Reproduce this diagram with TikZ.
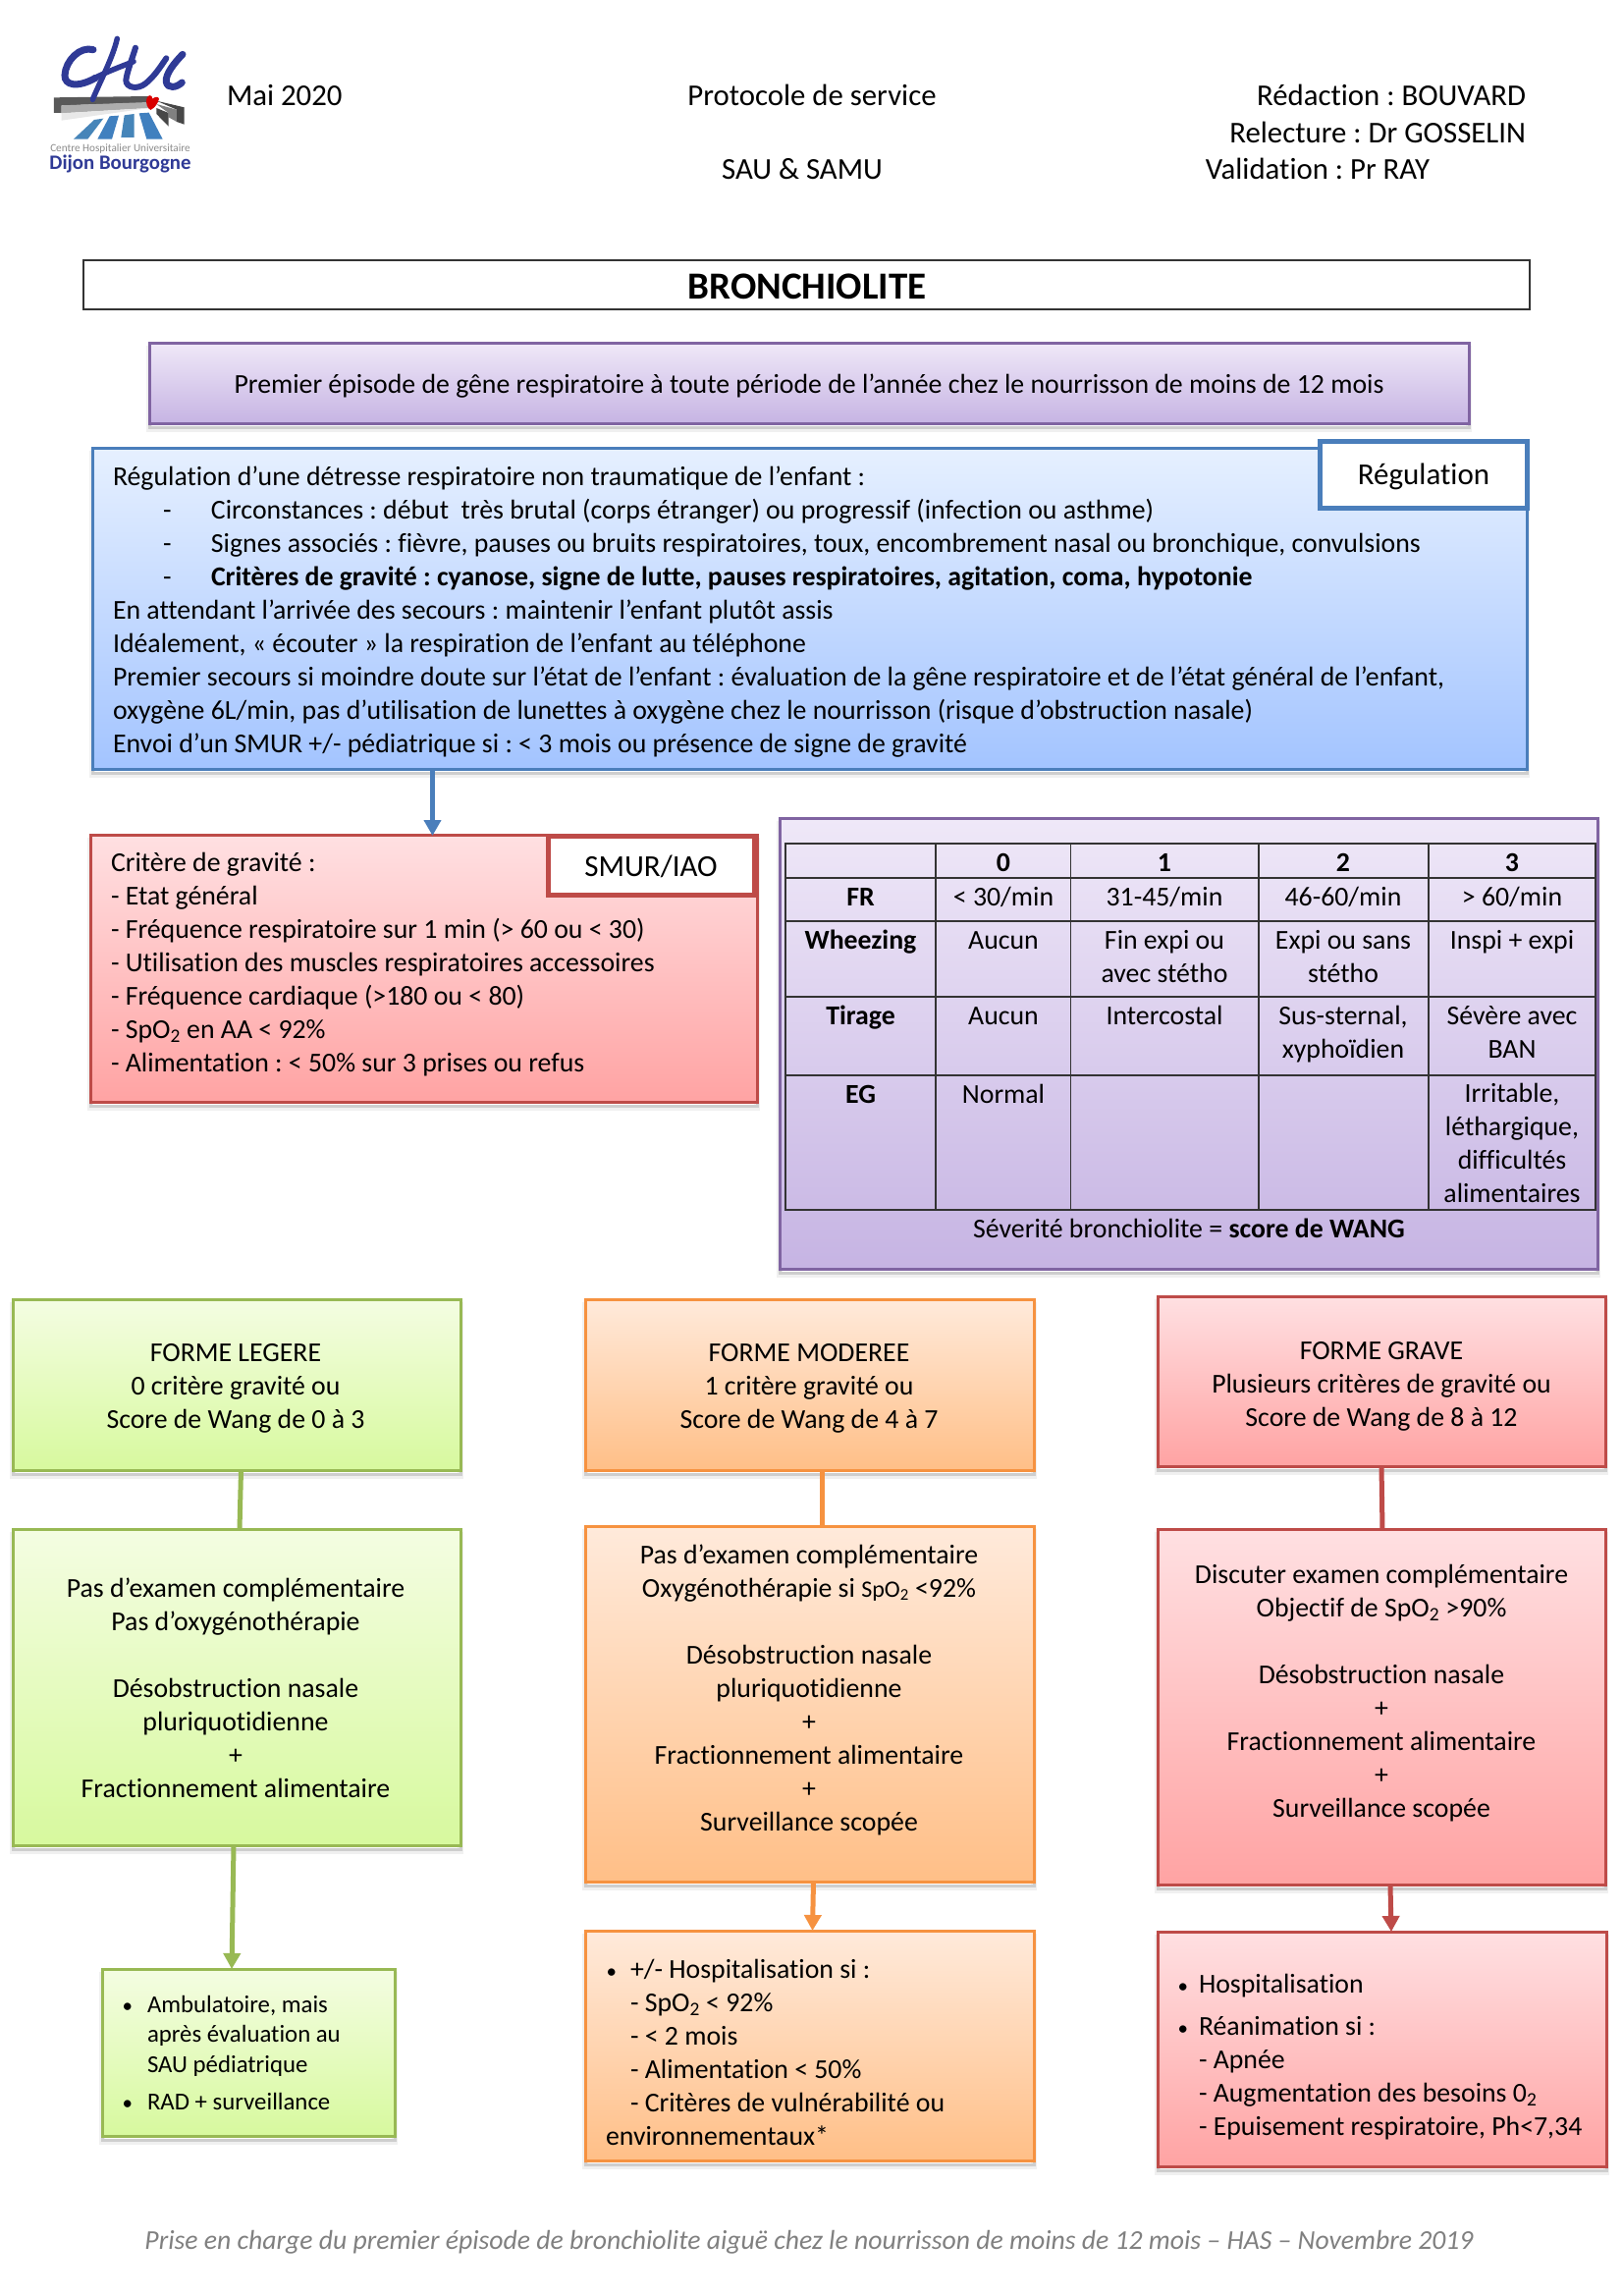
\documentclass[tikz,border=0pt]{standalone}
\usepackage{fontspec}
\setmainfont{Carlito}[Ligatures=NoCommon]
\frenchspacing
\usetikzlibrary{arrows.meta,calc}
\definecolor{purB}{HTML}{8064A2}\definecolor{purT}{HTML}{EFE8F8}\definecolor{purE}{HTML}{C6B4E3}
\definecolor{bluB}{HTML}{4A7EBB}\definecolor{bluT}{HTML}{E6F0FF}\definecolor{bluE}{HTML}{A3C4FF}
\definecolor{redB}{HTML}{BE4B48}\definecolor{redT}{HTML}{FFE0E2}\definecolor{redE}{HTML}{FFA3A3}
\definecolor{greB}{HTML}{98B954}\definecolor{greT}{HTML}{F4FDE2}\definecolor{greE}{HTML}{D7F99E}
\definecolor{oraB}{HTML}{F69240}\definecolor{oraT}{HTML}{FFEADB}\definecolor{oraE}{HTML}{FFBF87}
\definecolor{chu}{HTML}{2F3A96}
\newcommand{\fs}[2]{\fontsize{#1}{#2}\selectfont}
\newcommand{\bul}[1]{\leavevmode\llap{{\fs{21}{21}\textbullet}\hspace{#1}}}
\tikzset{
  softshadow/.style={
    preaction={draw=black,draw opacity=.06,line width=6pt,transform canvas={yshift=-6pt}},
    preaction={draw=black,draw opacity=.14,line width=3pt,transform canvas={yshift=-4pt}}},
  boxbase/.style={rectangle,inner sep=0pt,outer sep=0pt,line width=3pt,softshadow},
  purbox/.style={boxbase,draw=purB,top color=purT,bottom color=purE},
  blubox/.style={boxbase,draw=bluB,top color=bluT,bottom color=bluE},
  redbox/.style={boxbase,draw=redB,top color=redT,bottom color=redE},
  grebox/.style={boxbase,draw=greB,top color=greT,bottom color=greE},
  orabox/.style={boxbase,draw=oraB,top color=oraT,bottom color=oraE},
  tagbox/.style={rectangle,inner sep=0pt,outer sep=0pt,line width=5pt,fill=white},
  titlebox/.style={rectangle,inner sep=0pt,outer sep=0pt,line width=1.8pt,draw=black!80},
  tl/.style={inner sep=0pt,outer sep=0pt,anchor=base west,align=flush left,text width=#1,font=\fs{27.8}{34}},
  tl/.default=1500pt,
  tc/.style={inner sep=0pt,outer sep=0pt,anchor=base,align=flush center,text width=#1,font=\fs{27.8}{34}},
  tc/.default=500pt,
  tr/.style={inner sep=0pt,outer sep=0pt,anchor=base east,font=\fs{30.8}{34}},
  cell/.style={inner sep=0pt,outer sep=0pt,anchor=base,align=flush center,text width=170pt,font=\fs{27.8}{34}},
  grid/.style={draw=black!80,line width=1.6pt},
  conn/.style={line width=5pt},
  arr/.style={line width=5pt,-{Triangle[width=17pt,length=16pt]}},
}
\newcommand{\bx}[6]{\node[#2,minimum width={(#5)-(#3)},minimum height={(#6)-(#4)}] (#1) at ({((#3)+(#5))/2},{((#4)+(#6))/2}) {};}
\begin{document}
\begin{tikzpicture}[x=1pt,y=-1pt]
\useasboundingbox (0,0) rectangle (1652,2338);
\fill[white] (0,0) rectangle (1652,2338);
% logo
\begin{scope}[shift={(40,30)},x=.3333pt,y=-.3333pt]
 \fill[black!65] (45,208) -- (335,204) -- (335,224) -- (68,232) -- (68,255) -- (45,255) -- cycle;
 \fill[black!32] (68,232) -- (335,222) -- (335,240) -- (68,256) -- cycle;
 \fill[black!9] (68,256) -- (335,240) -- (68,278) -- cycle;
 \fill[black!72] (358,218) -- (443,238) -- (443,290) -- (420,282) -- (420,245) -- cycle;
 \fill[black!50] (358,228) -- (420,245) -- (420,282) -- (395,268) -- (395,255) -- cycle;
 \fill[black!72] (358,240) -- (395,255) -- (395,296) -- (358,258) -- cycle;
 \fill[red!85!black] (328,212) .. controls (332,198) and (345,198) .. (346,212) .. controls (352,205) and (366,205) .. (366,212) .. controls (362,228) and (352,240) .. (340,246) .. controls (330,240) and (325,225) .. (328,212) -- cycle;
 \fill[blue!45!cyan!45!gray] (168,276) -- (196,272) -- (148,335) -- (105,335) -- cycle;
 \fill[blue!50!cyan!50!gray] (215,265) -- (243,263) -- (222,335) -- (178,335) -- cycle;
 \fill[blue!45!cyan!45!gray] (260,262) -- (290,258) -- (290,330) -- (250,330) -- cycle;
 \fill[blue!50!cyan!50!gray] (305,256) -- (335,254) -- (377,335) -- (328,335) -- cycle;
 \draw[chu,line width=7pt,line cap=round] (165,62) .. controls (125,50) and (80,95) .. (78,140) .. controls (77,170) and (115,180) .. (172,148);
 \draw[chu,line width=5.5pt,line cap=round] (238,28) .. controls (225,85) and (190,150) .. (163,214);
 \draw[chu,line width=5.5pt,line cap=round] (170,148) .. controls (205,130) and (245,115) .. (288,98);
 \draw[chu,line width=6pt,line cap=round] (294,56) .. controls (282,95) and (268,130) .. (265,155) .. controls (265,178) and (300,185) .. (325,165) .. controls (350,145) and (370,115) .. (388,88);
 \draw[chu,line width=7pt,line cap=round] (438,76) .. controls (415,100) and (385,135) .. (388,160) .. controls (392,182) and (420,178) .. (436,162);
\end{scope}
\node[inner sep=0pt,text=black!45,font=\fs{11.2}{14}] (logoa) at (122.5,152) {Centre Hospitalier Universitaire};
\node[inner sep=0pt,text=chu,font=\bfseries\fs{20.8}{22}] (logob) at (122.5,167) {Dijon Bourgogne};
% header
\node[tl=300pt,font=\fs{30.8}{34}] (date) at (231,107) {Mai 2020};
\node[tc,font=\fs{30.8}{34}] (proto) at (827,107) {Protocole de service};
\node[tc,font=\fs{30.8}{34}] (sau) at (817,182) {SAU \& SAMU};
\node[tr] (redac) at (1554,107) {Rédaction : BOUVARD};
\node[tr] (relec) at (1554,145) {Relecture : Dr GOSSELIN};
\node[tc,font=\fs{30.8}{34}] (valid) at (1342,182) {Validation : Pr RAY};
% title
\bx{title}{titlebox}{85}{265}{1558}{315}
\node[tc,font=\bfseries\fs{39}{40}] (titlet) at (822,304) {BRONCHIOLITE};
% purple
\bx{prem}{purbox}{152}{349}{1496}{431}
\node[tc=1300pt] (premt) at (prem.center |- 0,400) {Premier épisode de gêne respiratoire à toute période de l’année chez le nourrisson de moins de 12 mois};
% blue
\bx{reg}{blubox}{94}{456}{1555}{783}
\node[tl=1430pt] (regt) at (115,494) {Régulation d’une détresse respiratoire non traumatique de l’enfant :\\
\makebox[100pt][l]{\hspace*{51pt}-}Circonstances : début\ \ très brutal (corps étranger) ou progressif (infection ou asthme)\\
\makebox[100pt][l]{\hspace*{51pt}-}Signes associés : fièvre, pauses ou bruits respiratoires, toux, encombrement nasal ou bronchique, convulsions\\
\makebox[100pt][l]{\hspace*{51pt}-}\textbf{Critères de gravité : cyanose, signe de lutte, pauses respiratoires, agitation, coma, hypotonie}\\
En attendant l’arrivée des secours : maintenir l’enfant plutôt assis\\
Idéalement, « écouter » la respiration de l’enfant au téléphone\\
Premier secours si moindre doute sur l’état de l’enfant : évaluation de la gêne respiratoire et de l’état général de l’enfant,\\
oxygène 6L/min, pas d’utilisation de lunettes à oxygène chez le nourrisson (risque d’obstruction nasale)\\
Envoi d’un SMUR +/- pédiatrique si : < 3 mois ou présence de signe de gravité};
\bx{regtag}{tagbox,draw=bluB}{1344}{449}{1555}{517}
\node[tc=200pt,font=\fs{31}{34}] (regtagt) at (1450,493) {Régulation};
% critères
\bx{crit}{redbox}{92}{850}{771}{1122}
\node[tl=640pt] (critt) at (113,887) {Critère de gravité :\\
- Etat général\\
- Fréquence respiratoire sur 1 min (> 60 ou < 30)\\
- Utilisation des muscles respiratoires accessoires\\
- Fréquence cardiaque (>180 ou < 80)\\
- SpO\textsubscript{2} en AA < 92\%\\
- Alimentation : < 50\% sur 3 prises ou refus};
\bx{smur}{tagbox,draw=redB}{558}{851}{768}{911}
\node[tc=200pt,font=\fs{31}{34}] (smurt) at (smur.center |- 0,892) {SMUR/IAO};
\coordinate (critin) at ($(crit.north)+(9,1)$);
\draw[arr,bluB] (critin |- reg.south) -- (critin);
% Wang
\bx{wang}{purbox}{794}{833}{1627}{1292}
\draw[grid] (800,859) rectangle (1625,1232);
\foreach \yy in {894,938,1015,1095} \draw[grid] (800,\yy) -- (1625,\yy);
\foreach \xx in {953,1090.5,1282,1455} \draw[grid] (\xx,859) -- (\xx,1232);
\node[cell,font=\bfseries\fs{27.8}{34}] (h0) at (1022,887) {0};
\node[cell,font=\bfseries\fs{27.8}{34}] (h1) at (1186,887) {1};
\node[cell,font=\bfseries\fs{27.8}{34}] (h2) at (1368,887) {2};
\node[cell,font=\bfseries\fs{27.8}{34}] (h3) at (1540,887) {3};
\node[cell,font=\bfseries\fs{27.8}{34}] (rfr) at (876.5,922.5) {FR};
\node[cell] (fr0) at (1022,922.5) {< 30/min};
\node[cell] (fr1) at (1186,922.5) {31-45/min};
\node[cell] (fr2) at (1368,922.5) {46-60/min};
\node[cell] (fr3) at (1540,922.5) {> 60/min};
\node[cell,font=\bfseries\fs{27.8}{34}] (rwh) at (876.5,966.5) {Wheezing};
\node[cell] (wh0) at (1022,966.5) {Aucun};
\node[cell] (wh1) at (1186,966.5) {Fin expi ou\\avec stétho};
\node[cell] (wh2) at (1368,966.5) {Expi ou sans\\stétho};
\node[cell] (wh3) at (1540,966.5) {Inspi + expi};
\node[cell,font=\bfseries\fs{27.8}{34}] (rti) at (876.5,1043.5) {Tirage};
\node[cell] (ti0) at (1022,1043.5) {Aucun};
\node[cell] (ti1) at (1186,1043.5) {Intercostal};
\node[cell] (ti2) at (1368,1043.5) {Sus-sternal,\\xyphoïdien};
\node[cell] (ti3) at (1540,1043.5) {Sévère avec\\BAN};
\node[cell,font=\bfseries\fs{27.8}{34}] (reg0) at (876.5,1123) {EG};
\node[cell] (eg0) at (1022,1123) {Normal};
\node[cell] (eg3) at (1540,1122.5) {Irritable,\\léthargique,\\difficultés\\alimentaires};
\node[tc=700pt,font=\fs{27.8}{34}] (wangc) at (1211,1260) {Séverité bronchiolite = \textbf{score de WANG}};
% columns: boxes
\bx{g1}{grebox}{13}{1323}{469}{1497}
\bx{g2}{grebox}{13}{1557}{469}{1879}
\bx{g3}{grebox}{104}{2005}{402}{2175}
\bx{o1}{orabox}{596}{1323}{1053}{1497}
\bx{o2}{orabox}{596}{1554}{1053}{1916}
\bx{o3}{orabox}{596}{1966}{1053}{2200}
\bx{r1}{redbox}{1179}{1320}{1635}{1493}
\bx{r2}{redbox}{1179}{1557}{1635}{1919}
\bx{r3}{redbox}{1179}{1967}{1636}{2206}
% connectors
\draw[conn,greB] ($(g1.south)+(4.5,0)$) -- ($(g2.north)+(3,0)$);
\draw[arr,greB] ($(g2.south)+(-3,0)$) -- ($(g3.north)+(-17,0)$);
\draw[conn,oraB] ($(o1.south)+(13,0)$) -- ($(o2.north)+(13,0)$);
\draw[arr,oraB] ($(o2.south)+(4,0)$) -- ($(o3.north)+(3,0)$);
\draw[conn,redB] ($(r1.south)+(0,0)$) -- ($(r2.north)+(1,0)$);
\draw[arr,redB] ($(r2.south)+(9,0)$) -- ($(r3.north)+(9.5,0)$);
% column text
\node[tc=440pt] (g1t) at (240,1386) {FORME LEGERE\\0 critère gravité ou\\Score de Wang de 0 à 3};
\node[tc=440pt] (g2t) at (240,1626) {Pas d’examen complémentaire\\Pas d’oxygénothérapie\\[34pt]Désobstruction nasale\\pluriquotidienne\\+\\Fractionnement alimentaire};
\node[tl=280pt,font=\fs{24.8}{30.7}] (g3t) at (150,2049) {\bul{15pt}Ambulatoire, mais\\après évaluation au\\SAU pédiatrique\\[7pt]\bul{15pt}RAD + surveillance};
\node[tc=440pt] (o1t) at (824,1386) {FORME MODEREE\\1 critère gravité ou\\Score de Wang de 4 à 7};
\node[tc=440pt] (o2t) at (824,1592) {Pas d’examen complémentaire\\Oxygénothérapie si {\fs{24}{34}SpO\textsubscript{2}} <92\%\\[34pt]Désobstruction nasale\\pluriquotidienne\\+\\Fractionnement alimentaire\\+\\Surveillance scopée};
\node[tl=430pt] (o3t) at (617,2014) {\hspace*{25pt}\bul{14pt}+/- Hospitalisation si :\\\hspace*{25pt}- SpO\textsubscript{2} < 92\%\\\hspace*{25pt}- < 2 mois\\\hspace*{25pt}- Alimentation < 50\%\\\hspace*{25pt}- Critères de vulnérabilité ou\\environnementaux*};
\node[tc=440pt] (r1t) at (1407,1384) {FORME GRAVE\\Plusieurs critères de gravité ou\\Score de Wang de 8 à 12};
\node[tc=440pt] (r2t) at (1407,1612) {Discuter examen complémentaire\\Objectif de SpO\textsubscript{2} >90\%\\[34pt]Désobstruction nasale\\+\\Fractionnement alimentaire\\+\\Surveillance scopée};
\node[tl=410pt] (r3t) at (1221,2029) {\bul{11pt}Hospitalisation\\[9pt]\bul{11pt}Réanimation si :\\- Apnée\\- Augmentation des besoins 0\textsubscript{2}\\- Epuisement respiratoire, Ph<7,34};
% footer
\node[tc=1500pt,text=black!50,font=\itshape\fs{27.7}{34}] (foot) at (824,2290) {Prise en charge du premier épisode de bronchiolite aiguë chez le nourrisson de moins de 12 mois – HAS – Novembre 2019};
\end{tikzpicture}
\end{document}
